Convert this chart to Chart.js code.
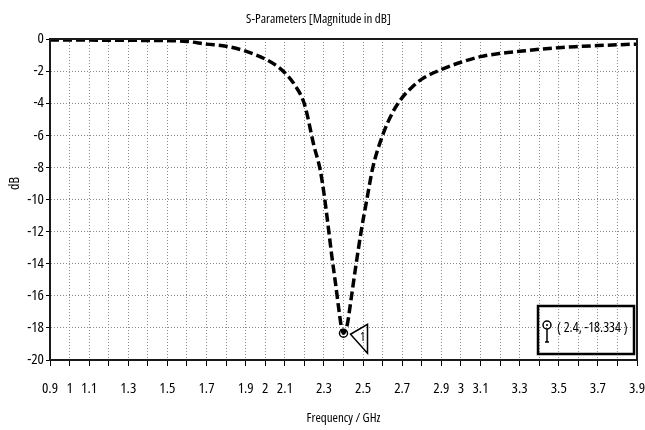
<!DOCTYPE html>
<html>
<head>
<meta charset="utf-8">
<title>S-Parameters</title>
<script src="https://cdn.jsdelivr.net/npm/chart.js@4.4.1/dist/chart.umd.min.js"></script>
<style>
  body { margin: 0; background: #fff; }
  canvas { display: block; }
</style>
</head>
<body>
<canvas id="chart" width="645" height="430"></canvas>
<script>
// S11 curve
const freqGHz = [0.9, 1.0, 1.1, 1.2, 1.3, 1.4, 1.5, 1.6, 1.7, 1.8, 1.9, 2.0, 2.05, 2.1, 2.15, 2.2,
  2.25, 2.28, 2.3, 2.32, 2.34, 2.36, 2.38, 2.39, 2.4, 2.41, 2.42, 2.44, 2.46, 2.49, 2.52, 2.55,
  2.6, 2.65, 2.7, 2.75, 2.8, 2.9, 3.0, 3.1, 3.2, 3.3, 3.4, 3.5, 3.6, 3.7, 3.8, 3.9];
const s11dB = [-0.07, -0.07, -0.07, -0.08, -0.08, -0.09, -0.1, -0.15, -0.32, -0.45, -0.76, -1.25, -1.6, -2.1, -2.85, -4.05,
  -6.7, -8.1, -9.6, -11.5, -13.5, -15.3, -17.2, -18.0, -18.334, -18.14, -17.75, -16.1, -14.4, -12.0, -9.95, -8.0,
  -6.0, -4.6, -3.65, -3.0, -2.5, -1.9, -1.45, -1.1, -0.9, -0.77, -0.64, -0.54, -0.47, -0.41, -0.36, -0.32];

// marker 1
const markerFreq = [2.4];
const markerDb = [-18.334];

const xTickLabels = ['0.9', '1', '1.1', '1.3', '1.5', '1.7', '1.9', '2', '2.1', '2.3', '2.5',
  '2.7', '2.9', '3', '3.1', '3.3', '3.5', '3.7', '3.9'];
const yTicks = [0, -2, -4, -6, -8, -10, -12, -14, -16, -18, -20];

// Open Sans has a condensed width, close to the narrow font of the original
const FAMILY = "'Open Sans', 'DejaVu Sans', sans-serif";
Chart.defaults.font.family = FAMILY;
Chart.defaults.font.size = 15;
Chart.defaults.font.weight = 'condensed';
Chart.defaults.color = '#000';

const GRID = '#8a8a8a';

const framePlugin = {
  id: 'frame',
  beforeDraw(chart) {
    const ctx = chart.ctx;
    ctx.save();
    ctx.fillStyle = '#fff';
    ctx.fillRect(0, 0, chart.width, chart.height);
    ctx.restore();
  },
  afterDraw(chart) {
    const { ctx, chartArea: a, scales: { x, y } } = chart;
    ctx.save();

    // plot frame
    ctx.strokeStyle = '#1a1a1a';
    ctx.lineWidth = 2;
    ctx.strokeRect(a.left, a.top, a.right - a.left, a.bottom - a.top);

    // y title
    ctx.fillStyle = '#000';
    ctx.font = 'condensed 14px ' + FAMILY;
    ctx.textAlign = 'center';
    ctx.textBaseline = 'middle';
    ctx.save();
    ctx.translate(15, a.top + (a.bottom - a.top) * 0.45);
    ctx.rotate(-Math.PI / 2);
    ctx.fillText('dB', 0, 0);
    ctx.restore();

    // marker flag (triangle + number)
    const px = x.getPixelForValue(markerFreq[0]);
    const py = y.getPixelForValue(markerDb[0]);
    ctx.strokeStyle = '#000';
    ctx.lineWidth = 1.5;
    ctx.beginPath();
    ctx.moveTo(px + 7, py + 1);
    ctx.lineTo(px + 24, py - 9);
    ctx.lineTo(px + 24, py + 20);
    ctx.closePath();
    ctx.stroke();
    ctx.font = 'condensed 12px ' + FAMILY;
    ctx.fillText('1', px + 19, py + 4);

    // marker readout box
    const bx = a.right - 99, by = a.bottom - 54;
    ctx.lineWidth = 2.5;
    ctx.strokeRect(bx, by, 96, 48);
    ctx.lineWidth = 1.5;
    ctx.beginPath();
    ctx.arc(bx + 9, by + 19, 4, 0, Math.PI * 2);
    ctx.stroke();
    ctx.beginPath();
    ctx.arc(bx + 9, by + 19, 1, 0, Math.PI * 2);
    ctx.fill();
    ctx.beginPath();
    ctx.moveTo(bx + 9, by + 23);
    ctx.lineTo(bx + 9, by + 36);
    ctx.moveTo(bx + 7, by + 36);
    ctx.lineTo(bx + 11, by + 36);
    ctx.stroke();
    ctx.font = 'condensed 14px ' + FAMILY;
    ctx.textAlign = 'left';
    ctx.fillText('( ' + markerFreq[0] + ', ' + markerDb[0] + ' )', bx + 19, by + 22);

    ctx.restore();
  }
};

const ctx = document.getElementById('chart').getContext('2d');
new Chart(ctx, {
  type: 'line',
  data: {
    datasets: [
      {
        label: 'S1,1',
        data: freqGHz.map((f, i) => ({ x: f, y: s11dB[i] })),
        borderColor: '#000',
        borderWidth: 3.5,
        borderDash: [9, 4],
        pointRadius: 0,
        cubicInterpolationMode: 'monotone',
        fill: false
      },
      {
        label: 'Marker 1',
        data: markerFreq.map((f, i) => ({ x: f, y: markerDb[i] })),
        showLine: false,
        pointStyle: 'circle',
        pointRadius: 4,
        pointBorderWidth: 1.5,
        pointBorderColor: '#000',
        pointBackgroundColor: 'rgba(0,0,0,0)'
      }
    ]
  },
  options: {
    responsive: false,
    animation: false,
    layout: { padding: { top: 0, right: 8, bottom: 0, left: 0 } },
    plugins: {
      legend: { display: false },
      tooltip: { enabled: false },
      title: {
        display: true,
        text: 'S-Parameters [Magnitude in dB]',
        font: { size: 13, weight: 'condensed', lineHeight: 1.2 },
        color: '#000',
        padding: { top: 11, bottom: 12.4 }
      }
    },
    scales: {
      x: {
        type: 'linear',
        min: 0.9,
        max: 3.9,
        afterFit: (scale) => {
          scale.height = 70;
          // labels may hang over the frame ends like in the original
          scale.paddingLeft = 0;
          scale.paddingRight = 0;
        },
        ticks: {
          stepSize: 0.1,
          autoSkip: false,
          maxRotation: 0,
          padding: 14,
          callback: (v) => {
            const s = String(Math.round(v * 10) / 10);
            return xTickLabels.includes(s) ? s : '';
          }
        },
        grid: {
          color: GRID,
          lineWidth: 1,
          tickColor: '#000',
          tickLength: 6,
          tickWidth: 1
        },
        border: { color: '#1a1a1a', width: 2, dash: [1, 2] },
        title: {
          display: true,
          text: 'Frequency / GHz',
          font: { size: 13 },
          padding: { top: 0, bottom: 4 }
        }
      },
      y: {
        min: -20,
        max: 0,
        afterFit: (scale) => { scale.width = 50; },
        afterBuildTicks: (scale) => { scale.ticks = yTicks.map(v => ({ value: v })); },
        ticks: { padding: 2, autoSkip: false },
        grid: {
          color: GRID,
          lineWidth: 1,
          tickColor: '#000',
          tickLength: 4,
          tickWidth: 1
        },
        border: { color: '#1a1a1a', width: 2, dash: [1, 2] }
      }
    }
  },
  plugins: [framePlugin]
});
</script>
</body>
</html>
